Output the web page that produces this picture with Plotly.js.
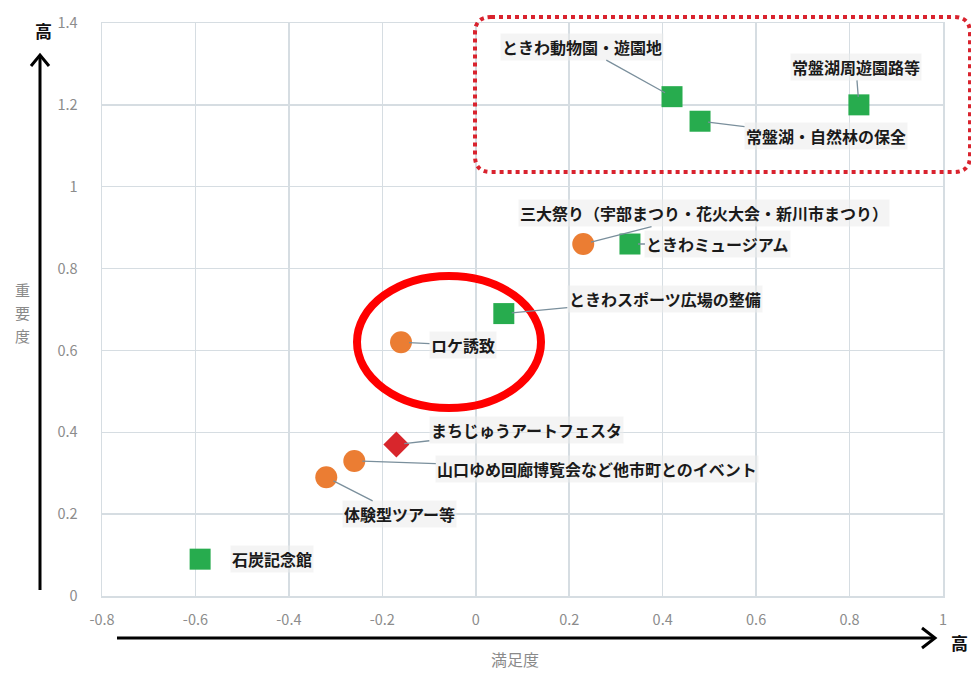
<!DOCTYPE html>
<html>
<head>
<meta charset="utf-8">
<script src="https://cdn.plot.ly/plotly-3.0.1.min.js"></script>
<style>html,body{margin:0;padding:0;background:#fff;}#chart{width:971px;height:673px;}</style>
</head>
<body>
<div id="chart"></div>
<script>
// ---- data ----
const facilityNames = ['石炭記念館', 'ときわスポーツ広場の整備', 'ときわミュージアム', 'ときわ動物園・遊園地', '常盤湖・自然林の保全', '常盤湖周遊園路等'];
const facilityX = [-0.59, 0.06, 0.33, 0.42, 0.48, 0.82];
const facilityY = [0.09, 0.69, 0.86, 1.22, 1.16, 1.20];

const eventNames = ['体験型ツアー等', '山口ゆめ回廊博覧会など他市町とのイベント', 'ロケ誘致', '三大祭り（宇部まつり・花火大会・新川市まつり）'];
const eventX = [-0.32, -0.26, -0.16, 0.23];
const eventY = [0.29, 0.33, 0.62, 0.86];

const artNames = ['まちじゅうアートフェスタ'];
const artX = [-0.17];
const artY = [0.37];

const xTickVals = [-0.8, -0.6, -0.4, -0.2, 0, 0.2, 0.4, 0.6, 0.8, 1];
const xTickLabels = ['-0.8', '-0.6', '-0.4', '-0.2', '0', '0.2', '0.4', '0.6', '0.8', '1'];
const yTickVals = [0, 0.2, 0.4, 0.6, 0.8, 1, 1.2, 1.4];
const yTickLabels = ['0', '0.2', '0.4', '0.6', '0.8', '1', '1.2', '1.4'];

const xTitle = '満足度';
const yTitle = '重要度';
const highLabel = '高';

// ---- label placement (pixel offsets of label centre from its point) ----
const labelOffsets = {
  '石炭記念館': [72, 0, false],
  'ときわスポーツ広場の整備': [161, -15, true],
  'ときわミュージアム': [88, 0, true],
  'ときわ動物園・遊園地': [-90, -50, true],
  '常盤湖・自然林の保全': [126, 15, true],
  '常盤湖周遊園路等': [-3, -38, true],
  '体験型ツアー等': [73, 37, true],
  '山口ゆめ回廊博覧会など他市町とのイベント': [243, 8, true],
  'ロケ誘致': [62, 3, true],
  '三大祭り（宇部まつり・花火大会・新川市まつり）': [121, -31, true],
  'まちじゅうアートフェスタ': [130, -15, true]
};

const FONT = '"Noto Sans CJK JP", "Noto Sans", sans-serif';

const traces = [
  {
    type: 'scatter', mode: 'markers', name: '施設',
    x: facilityX, y: facilityY, text: facilityNames,
    marker: {symbol: 'square', size: 21, color: '#27ac4e', line: {width: 0}},
    cliponaxis: false, hoverinfo: 'text+x+y'
  },
  {
    type: 'scatter', mode: 'markers', name: 'イベント',
    x: eventX, y: eventY, text: eventNames,
    marker: {symbol: 'circle', size: 22, color: '#eb7d33', line: {width: 0}},
    cliponaxis: false, hoverinfo: 'text+x+y'
  },
  {
    type: 'scatter', mode: 'markers', name: 'アート',
    x: artX, y: artY, text: artNames,
    marker: {symbol: 'diamond', size: 20, color: '#d8262c', line: {width: 0}},
    cliponaxis: false, hoverinfo: 'text+x+y'
  }
];

const annotations = [];
function addLabels(names, xs, ys) {
  names.forEach((n, i) => {
    const o = labelOffsets[n];
    annotations.push({
      x: xs[i], y: ys[i], xref: 'x', yref: 'y',
      text: '<b>' + n + '</b>',
      showarrow: true, arrowhead: 0, arrowwidth: 1.3,
      arrowcolor: o[2] ? '#7a8f9c' : 'rgba(0,0,0,0)',
      ax: o[0], ay: o[1], standoff: 8,
      font: {family: FONT, size: 16, color: '#1a1a1a'},
      bgcolor: 'rgba(235,235,235,0.55)', borderpad: 1
    });
  });
}
addLabels(facilityNames, facilityX, facilityY);
addLabels(eventNames, eventX, eventY);
addLabels(artNames, artX, artY);

function px(v) { return (v - 102) / 841; }
function py(v) { return (596 - v) / 573; }

// axis titles and "high" markers
annotations.push({xref: 'paper', yref: 'paper', x: px(515), y: py(659), text: xTitle, showarrow: false,
  font: {family: FONT, size: 16, color: '#8a8a8a'}, xanchor: 'center', yanchor: 'middle'});
// vertical (stacked) y title: one character per line
yTitle.split('').forEach((ch, i) => {
  annotations.push({xref: 'paper', yref: 'paper', x: px(22), y: py(289 + i * 23), text: ch, showarrow: false,
    font: {family: FONT, size: 15, color: '#8a8a8a'}, xanchor: 'center', yanchor: 'middle', borderpad: 0});
});
annotations.push({xref: 'paper', yref: 'paper', x: px(43), y: py(31), text: '<b>' + highLabel + '</b>', showarrow: false,
  font: {family: FONT, size: 17, color: '#111'}, xanchor: 'center', yanchor: 'middle'});
annotations.push({xref: 'paper', yref: 'paper', x: px(959), y: py(643), text: '<b>' + highLabel + '</b>', showarrow: false,
  font: {family: FONT, size: 17, color: '#111'}, xanchor: 'center', yanchor: 'middle'});

// rounded dotted rectangle
const rx0 = px(475), rx1 = px(970), ry0 = py(172), ry1 = py(17);
const cx = 16 / 841, cy = 16 / 573;
const roundRect = `M ${rx0 + cx},${ry1} L ${rx1 - cx},${ry1} Q ${rx1},${ry1} ${rx1},${ry1 - cy} L ${rx1},${ry0 + cy} Q ${rx1},${ry0} ${rx1 - cx},${ry0} L ${rx0 + cx},${ry0} Q ${rx0},${ry0} ${rx0},${ry0 + cy} L ${rx0},${ry1 - cy} Q ${rx0},${ry1} ${rx0 + cx},${ry1} Z`;

const shapes = [
  {type: 'path', xref: 'paper', yref: 'paper', path: roundRect, line: {color: '#d9232e', width: 4, dash: 'dot'}, layer: 'above'},
  {type: 'circle', xref: 'paper', yref: 'paper', x0: px(357), x1: px(541), y0: py(408), y1: py(276), line: {color: '#ff0000', width: 8}, layer: 'above'},
  // vertical arrow
  {type: 'line', xref: 'paper', yref: 'paper', x0: px(40), x1: px(40), y0: py(590), y1: py(55), line: {color: '#000', width: 3}},
  {type: 'path', xref: 'paper', yref: 'paper', path: `M ${px(31)},${py(66)} L ${px(40)},${py(55)} L ${px(49)},${py(66)}`, line: {color: '#000', width: 3}},
  // horizontal arrow
  {type: 'line', xref: 'paper', yref: 'paper', x0: px(117), x1: px(935), y0: py(638), y1: py(638), line: {color: '#000', width: 3}},
  {type: 'path', xref: 'paper', yref: 'paper', path: `M ${px(922)},${py(628)} L ${px(935)},${py(638)} L ${px(922)},${py(648)}`, line: {color: '#000', width: 3}}
];

const layout = {
  width: 971, height: 673,
  margin: {l: 102, r: 28, t: 23, b: 77},
  paper_bgcolor: '#ffffff', plot_bgcolor: '#ffffff',
  showlegend: false,
  font: {family: FONT},
  xaxis: {
    range: [-0.8, 1], tickvals: xTickVals, ticktext: xTickLabels,
    showgrid: true, gridcolor: '#d6dde2', gridwidth: 1.5, zeroline: false,
    showline: true, mirror: true, linecolor: '#d6dde2', linewidth: 1.5,
    ticks: '', ticklabelstandoff: 10,
    tickfont: {family: FONT, size: 14.5, color: '#8c8c8c'}
  },
  yaxis: {
    range: [0, 1.4], tickvals: yTickVals, ticktext: yTickLabels,
    showgrid: true, gridcolor: '#d6dde2', gridwidth: 1.5, zeroline: false,
    showline: true, mirror: true, linecolor: '#d6dde2', linewidth: 1.5,
    ticks: '', ticklabelstandoff: 20,
    tickfont: {family: FONT, size: 14.5, color: '#8c8c8c'}
  },
  shapes: shapes,
  annotations: annotations
};

Plotly.newPlot('chart', traces, layout, {displayModeBar: false, staticPlot: true});
</script>
</body>
</html>
